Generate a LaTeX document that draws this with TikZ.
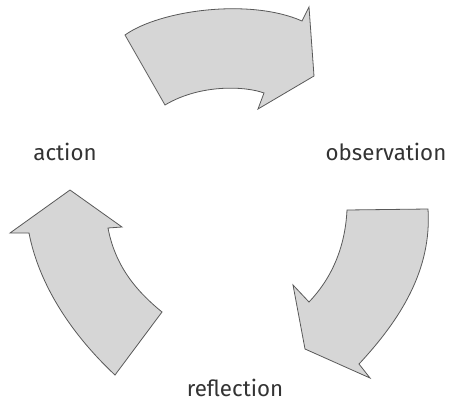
\documentclass[tikz,border=0pt]{standalone}
\usepackage{fontspec}
\setmainfont{Fira Sans}
\begin{document}
\begin{tikzpicture}[x=1pt,y=-1pt,
  cyclearrow/.style={draw=black!65, fill=black!16, line width=0.8pt, line join=miter},
  lbl/.style={text=black!80, font=\fontsize{22.3}{25}\selectfont, inner sep=0pt}]
\useasboundingbox (0,0) rectangle (449,401);
% top arrow (action -> observation)
\draw[cyclearrow] (125,35) .. controls (160,10) and (250,-2) .. (302,21) -- (309,7) -- (314,76) -- (258,109) -- (264,93)
  .. controls (245,86) and (200,84) .. (165,105) -- cycle;
% right arrow (observation -> reflection)
\draw[cyclearrow] (347,210) -- (428,209) .. controls (432,270) and (400,320) .. (359,364) -- (370,378) -- (305,349) -- (293,285) -- (309,302)
  .. controls (330,280) and (345,250) .. (347,210) -- cycle;
% left arrow (reflection -> action)
\draw[cyclearrow] (115,375) .. controls (67,330) and (38,280) .. (29,233) -- (10,233) -- (70,190) -- (122,227) -- (108,228)
  .. controls (115,265) and (135,290) .. (162,312) -- cycle;
\node[lbl] (action) at (65,152) {action};
\node[lbl] (observation) at (386,152) {observation};
\node[lbl] (reflection) at (235,388) {reflection};
\end{tikzpicture}
\end{document}
